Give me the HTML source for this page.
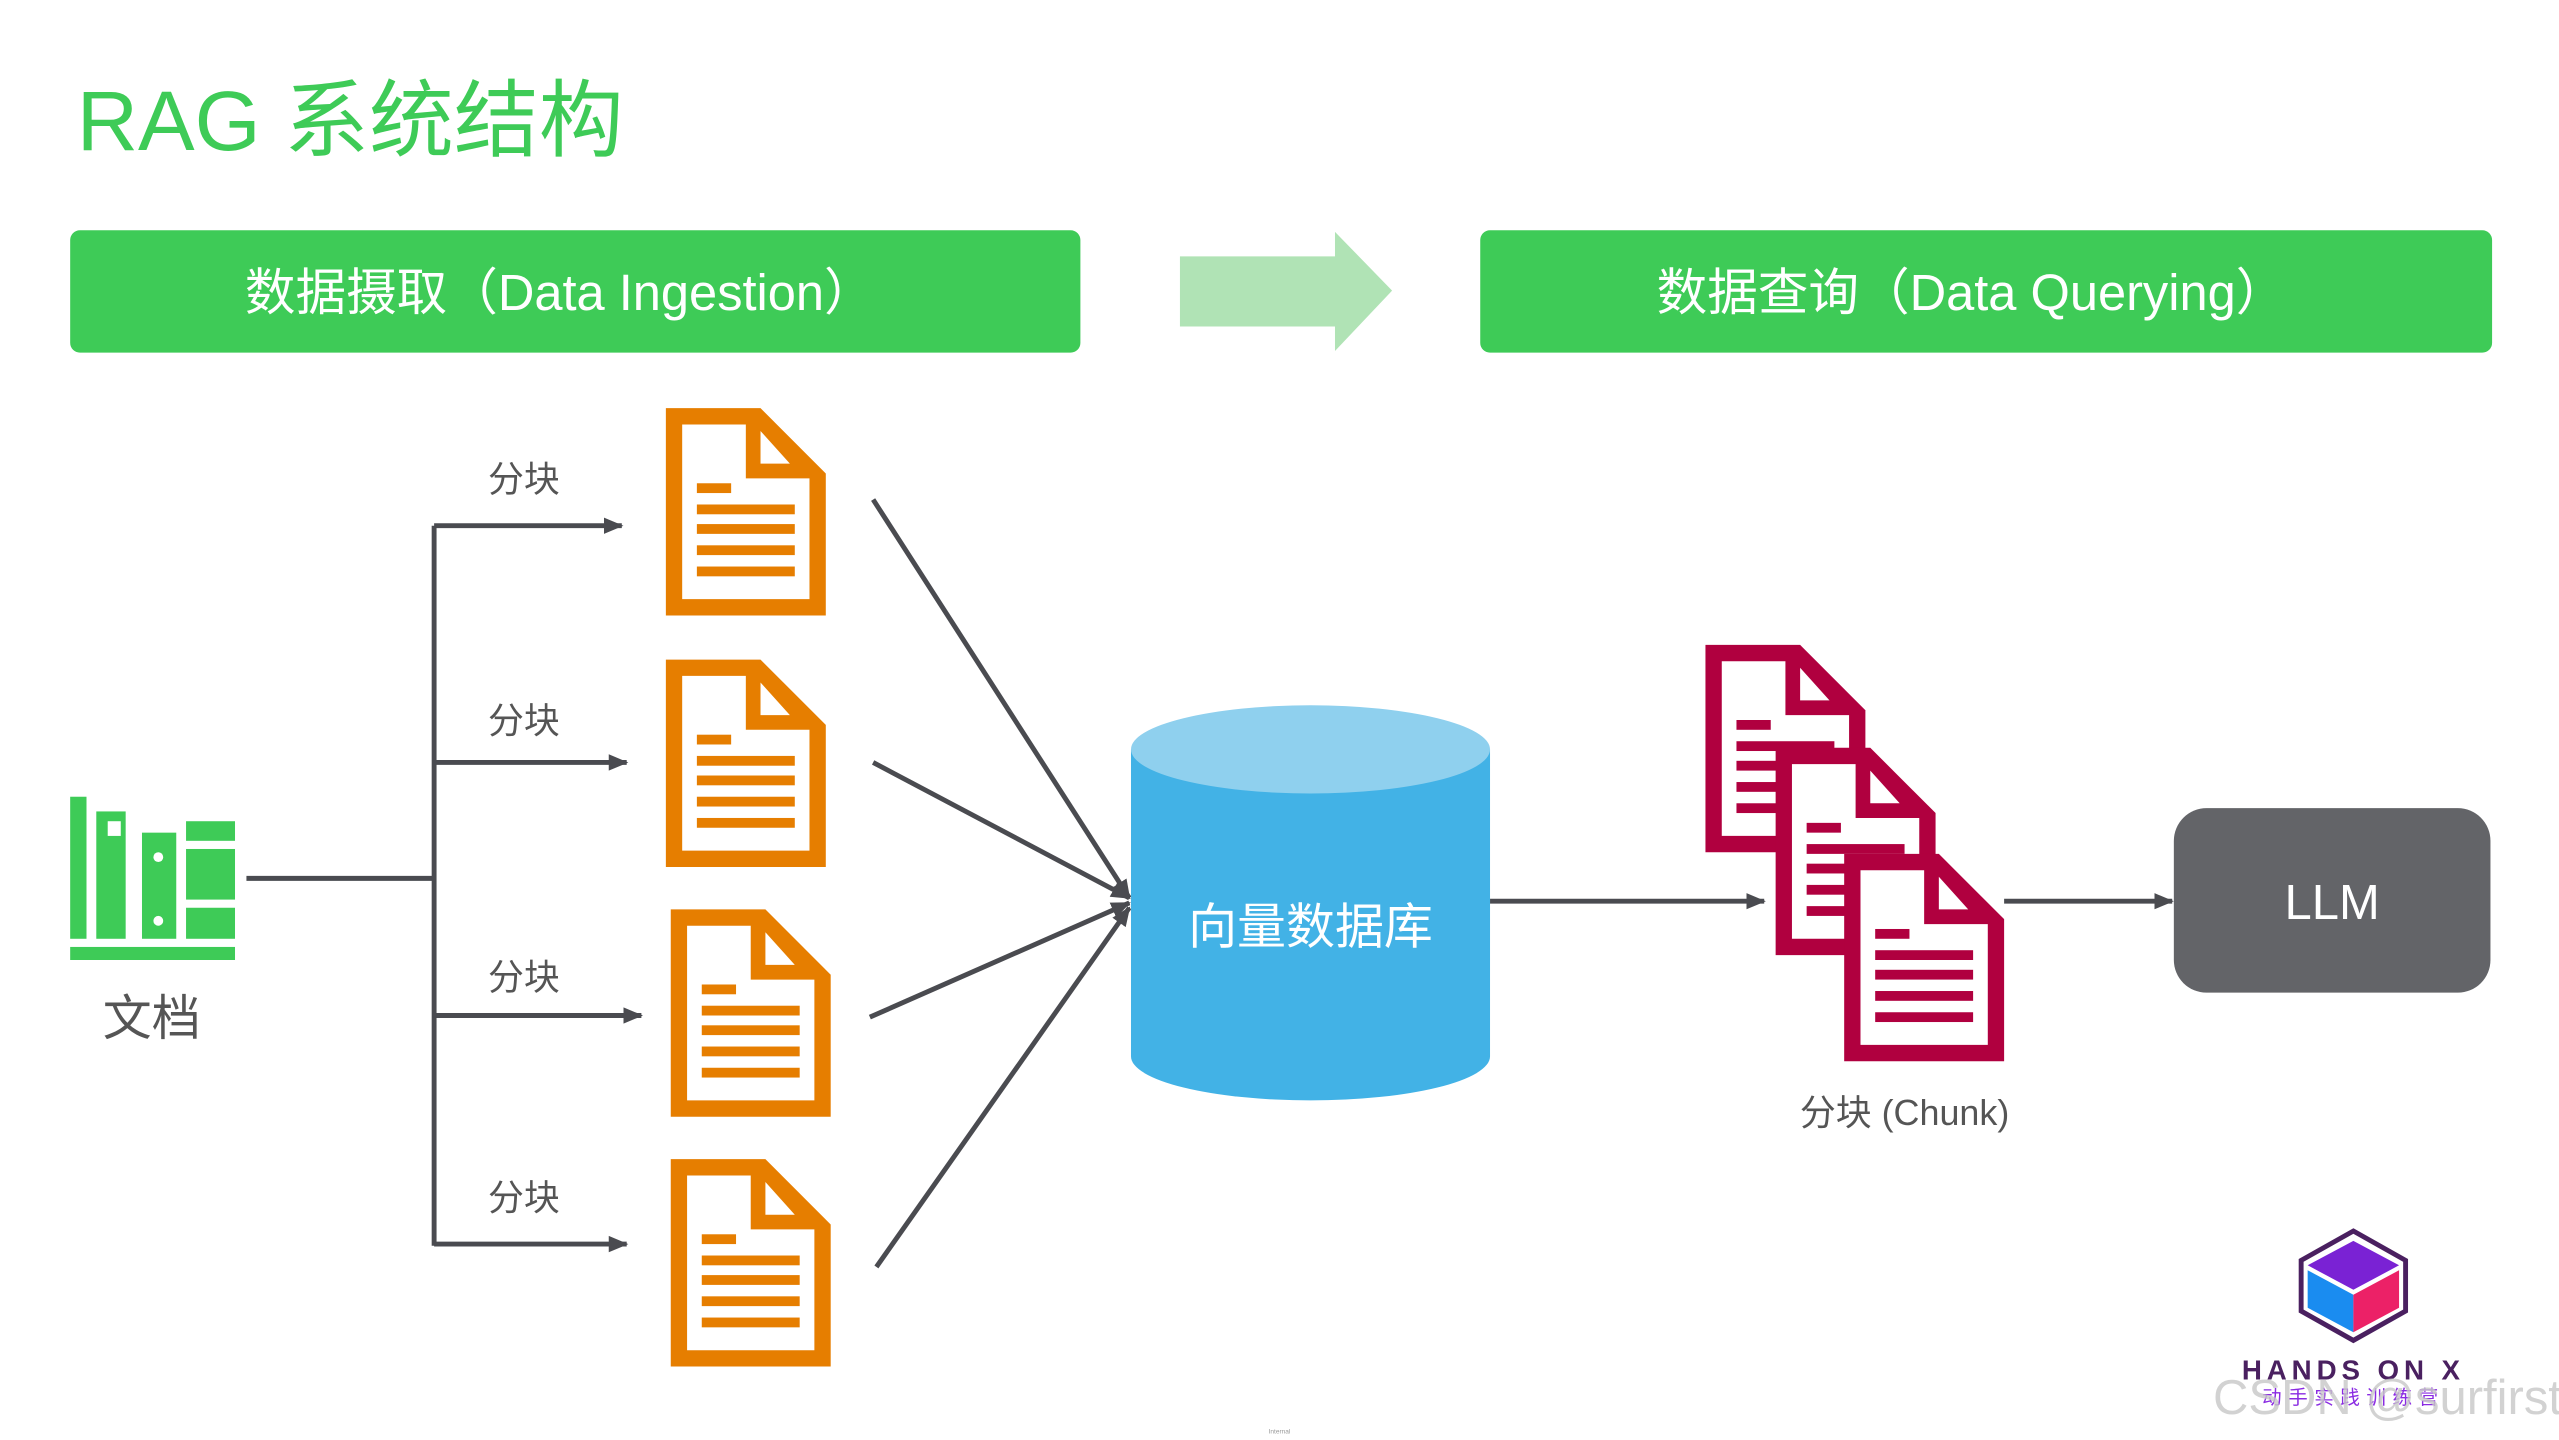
<!DOCTYPE html>
<html><head><meta charset="utf-8"><style>
html,body{margin:0;padding:0;background:#fff;}
svg{display:block;}
text{font-family:"Liberation Sans","Noto Sans CJK SC",sans-serif;}
</style></head><body>
<svg width="2559" height="1440" viewBox="0 0 1568 882" preserveAspectRatio="none" xmlns="http://www.w3.org/2000/svg">
<defs>
<g id="doc">
<polygon points="0,0 58,0 98,40 98,127 0,127" fill="currentColor"/>
<polygon points="10,10 49,10 49,43 88,43 88,117 10,117" fill="#fff"/>
<polygon points="58,14 58,34 76,34" fill="#fff"/>
<rect x="19" y="46" width="21" height="6" fill="currentColor"/>
<rect x="19" y="59" width="60" height="6" fill="currentColor"/>
<rect x="19" y="71" width="60" height="6" fill="currentColor"/>
<rect x="19" y="84" width="60" height="6" fill="currentColor"/>
<rect x="19" y="97" width="60" height="6" fill="currentColor"/>
</g>
<marker id="ar" markerWidth="12" markerHeight="12" refX="11" refY="6" orient="auto" markerUnits="userSpaceOnUse">
<path d="M0,1 L12,6 L0,11 Z" fill="#4a4b50"/>
</marker>
</defs>

<text x="47" y="92" font-size="52" fill="#3ecb57">RAG 系统结构</text>

<rect x="43" y="141" width="619" height="75" rx="6" fill="#3ecb57"/>
<text x="343" y="190" font-size="31" fill="#fff" text-anchor="middle">数据摄取（Data Ingestion）</text>
<rect x="907" y="141" width="620" height="75" rx="6" fill="#3ecb57"/>
<text x="1208" y="190" font-size="31" fill="#fff" text-anchor="middle">数据查询（Data Querying）</text>
<polygon points="723,157 818,157 818,142 853,178 818,215 818,200 723,200" fill="#b0e3b5"/>

<g fill="#3ecb57">
<rect x="43" y="488" width="10" height="87"/>
<rect x="59" y="497" width="18" height="78"/>
<rect x="87" y="510" width="21" height="65"/>
<rect x="114" y="503" width="30" height="12"/>
<rect x="114" y="520" width="30" height="31"/>
<rect x="114" y="556" width="30" height="19"/>
<rect x="43" y="580" width="101" height="8"/>
</g>
<rect x="66" y="503" width="8" height="9" fill="#fff"/>
<circle cx="97" cy="525" r="3" fill="#fff"/>
<circle cx="97" cy="564" r="3" fill="#fff"/>
<text x="93" y="634" font-size="30" fill="#555" text-anchor="middle">文档</text>

<g stroke="#4a4b50" stroke-width="3" fill="none">
<line x1="151" y1="538" x2="266" y2="538"/>
<line x1="266" y1="322" x2="266" y2="763"/>
<line x1="266" y1="322" x2="381" y2="322" marker-end="url(#ar)"/>
<line x1="266" y1="467" x2="384" y2="467" marker-end="url(#ar)"/>
<line x1="266" y1="622" x2="393" y2="622" marker-end="url(#ar)"/>
<line x1="266" y1="762" x2="384" y2="762" marker-end="url(#ar)"/>
<line x1="535" y1="306" x2="692" y2="550" marker-end="url(#ar)"/>
<line x1="535" y1="467" x2="692" y2="550" marker-end="url(#ar)"/>
<line x1="533" y1="623" x2="692" y2="553" marker-end="url(#ar)"/>
<line x1="537" y1="776" x2="692" y2="556" marker-end="url(#ar)"/>
<line x1="913" y1="552" x2="1081" y2="552" marker-end="url(#ar)"/>
<line x1="1228" y1="552" x2="1331" y2="552" marker-end="url(#ar)"/>
</g>
<g font-size="22" fill="#555" text-anchor="middle">
<text x="321" y="301">分块</text>
<text x="321" y="449">分块</text>
<text x="321" y="606">分块</text>
<text x="321" y="741">分块</text>
</g>

<g color="#e67e00">
<use href="#doc" x="408" y="250"/>
<use href="#doc" x="408" y="404"/>
<use href="#doc" x="411" y="557"/>
<use href="#doc" x="411" y="710"/>
</g>

<path d="M693,459 L693,647 A110,27 0 0 0 913,647 L913,459 Z" fill="#42b2e6"/>
<ellipse cx="803" cy="459" rx="110" ry="27" fill="#8fd0ee"/>
<text x="803" y="578" font-size="30" fill="#fff" text-anchor="middle">向量数据库</text>

<g color="#b0003f">
<use href="#doc" x="1045" y="395"/>
<use href="#doc" x="1088" y="458"/>
<use href="#doc" x="1130" y="523"/>
</g>
<text x="1167" y="689" font-size="22" fill="#555" text-anchor="middle">分块 (Chunk)</text>

<rect x="1332" y="495" width="194" height="113" rx="20" fill="#636468"/>
<text x="1429" y="563" font-size="30" fill="#fff" text-anchor="middle">LLM</text>

<polygon points="1442,754 1474,772 1474,803 1442,821 1410,803 1410,772" fill="#fff" stroke="#4a2060" stroke-width="3"/>
<polygon points="1442,760 1470,775 1442,790 1414,775" fill="#7a22d4"/>
<polygon points="1414,778 1442,793 1442,816 1414,801" fill="#1a8cf0"/>
<polygon points="1470,778 1442,793 1442,816 1470,801" fill="#ec2167"/>
<text x="1442" y="845" font-size="17" font-weight="bold" fill="#4a2060" text-anchor="middle" letter-spacing="3">HANDS ON X</text>
<text x="1442" y="860" font-size="12" fill="#8a2be2" text-anchor="middle" letter-spacing="4">动手实践训练营</text>
<text x="1356" y="866" font-size="30" fill="#c8c8c8" opacity="0.8">CSDN @surfirst</text>
<text x="784" y="878" font-size="4" fill="#999" text-anchor="middle">Internal</text>
</svg>
</body></html>
